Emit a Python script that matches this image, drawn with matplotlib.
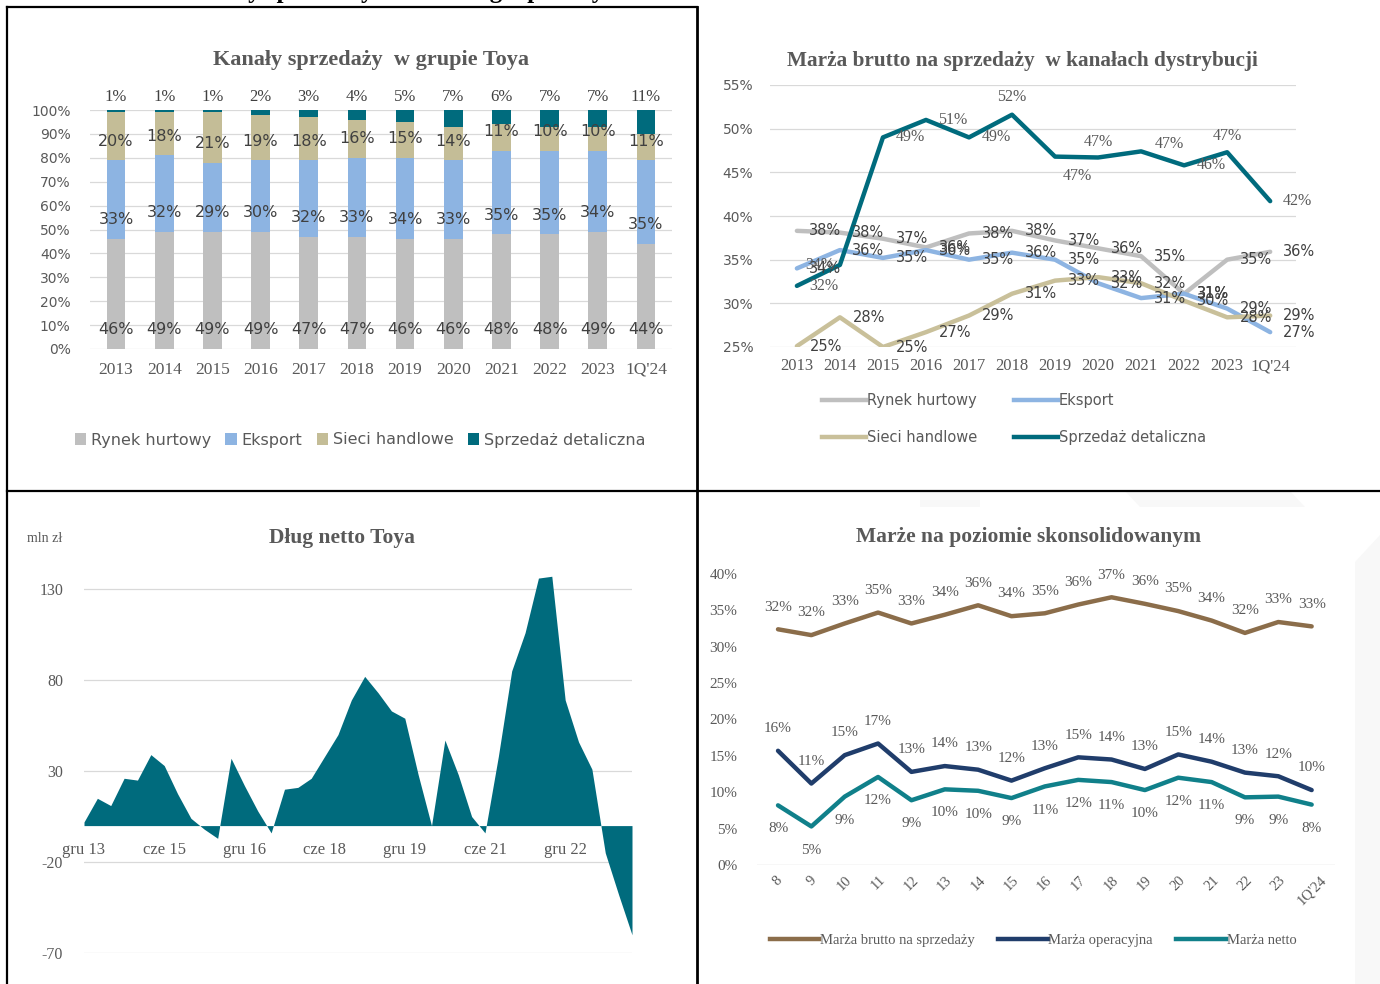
import matplotlib
matplotlib.use('Agg')
import matplotlib.pyplot as plt
import numpy as np
from matplotlib.lines import Line2D
from matplotlib.patches import Patch, Polygon

W, H = 1380, 984
SANS = ['DejaVu Sans']
SERIF = ['Liberation Serif', 'DejaVu Serif']
TXT = '#595959'
LBL = '#404040'
GRID = '#D9D9D9'

# ---------------- data: panel 1 (stacked bars) ----------------
years = ['2013', '2014', '2015', '2016', '2017', '2018', '2019', '2020', '2021', '2022', '2023', "1Q'24"]
share_hurt = [46, 49, 49, 49, 47, 47, 46, 46, 48, 48, 49, 44]
share_eksport = [33, 32, 29, 30, 32, 33, 34, 33, 35, 35, 34, 35]
share_sieci = [20, 18, 21, 19, 18, 16, 15, 14, 11, 10, 10, 11]
share_detal = [1, 1, 1, 2, 3, 4, 5, 7, 6, 7, 7, 11]

# ---------------- data: panel 2 (gross margin per channel) ----------------
mar_hurt = [38.3, 38.1, 37.4, 36.4, 38.0, 38.3, 37.2, 36.3, 35.4, 31.1, 35.0, 35.9]
mar_eksport = [34.0, 36.1, 35.2, 36.1, 35.0, 35.8, 35.0, 32.3, 30.6, 31.1, 29.4, 26.7]
mar_sieci = [25.1, 28.4, 25.0, 26.7, 28.6, 31.1, 32.6, 33.0, 32.3, 30.3, 28.4, 28.6]
mar_detal = [32.0, 34.4, 49.0, 51.0, 49.0, 51.6, 46.8, 46.7, 47.4, 45.8, 47.3, 41.7]

# ---------------- data: panel 3 (net debt, quarterly gru 13 .. 1Q'24) ----------------
debt = [2, 15, 11, 26, 25, 39, 33, 17.5, 4, -2, -7, 37, 22, 8, -4, 20, 21, 26, 38, 50,
        69, 82, 73, 63, 59, 28, 0, 47, 28, 5, -4, 38, 85, 106, 136, 137, 69, 46, 31, -15,
        -38, -60]
debt_tick_labels = ['gru 13', 'cze 15', 'gru 16', 'cze 18', 'gru 19', 'cze 21', 'gru 22']

# ---------------- data: panel 4 (consolidated margins) ----------------
periods = ['8', '9', '10', '11', '12', '13', '14', '15', '16', '17', '18', '19', '20', '21', '22', '23', "1Q'24"]
m_brutto = [32.4, 31.6, 33.2, 34.7, 33.2, 34.4, 35.7, 34.2, 34.6, 35.8, 36.8, 35.9, 34.9, 33.6, 31.9, 33.4, 32.8]
m_oper = [15.7, 11.2, 15.1, 16.7, 12.8, 13.6, 13.1, 11.6, 13.3, 14.8, 14.5, 13.2, 15.2, 14.2, 12.7, 12.2, 10.3]
m_netto = [8.2, 5.3, 9.4, 12.1, 8.9, 10.4, 10.2, 9.2, 10.8, 11.7, 11.4, 10.3, 12.0, 11.4, 9.3, 9.4, 8.3]


def rect(x0, y0, x1, y1):
    return [x0 / W, 1 - y1 / H, (x1 - x0) / W, (y1 - y0) / H]


def fx(x):
    return x / W


def fy(y):
    return 1 - y / H


fig = plt.figure(figsize=(W / 100, H / 100), dpi=100)
fig.patch.set_facecolor('white')

# faint watermark shapes
for poly in [[(920, 491), (980, 491), (980, 507), (920, 507)],
             [(1125, 491), (1290, 491), (1305, 507), (1140, 507)],
             [(1355, 562), (1380, 535), (1380, 984), (1355, 984)]]:
    fig.add_artist(Polygon([(fx(x), fy(y)) for x, y in poly], closed=True,
                           transform=fig.transFigure, facecolor='#F8F8F8', edgecolor='none', zorder=0))

# frame lines
def fline(x0, y0, x1, y1, lw=1.6):
    fig.add_artist(Line2D([fx(x0), fx(x1)], [fy(y0), fy(y1)], transform=fig.transFigure,
                          color='black', lw=lw, zorder=10))

fline(7, 7, 697, 7)
fline(7, 7, 7, 984)
fline(697, 7, 697, 984, lw=2)
fline(7, 491, 1380, 491)

# cut-off page heading (only its lowest strokes remain visible)
fig.text(fx(400), fy(-2), 'Kanały sprzedaży i marże w grupie Toya', family=SERIF, fontsize=18,
         fontweight='bold', ha='center', va='baseline', color='black')

# =============== Panel 1 ===============
ax1 = fig.add_axes(rect(90, 110, 672, 349))
x = np.arange(len(years))
wbar = 0.39
c_hurt, c_eks, c_sie, c_det = '#BFBFBF', '#8DB4E2', '#C4BD97', '#006B7D'
b0 = np.zeros(len(years))
series1 = [(share_hurt, c_hurt, 'Rynek hurtowy'), (share_eksport, c_eks, 'Eksport'),
           (share_sieci, c_sie, 'Sieci handlowe'), (share_detal, c_det, 'Sprzedaż detaliczna')]
for k, (vals, col, name) in enumerate(series1):
    vals = np.array(vals, dtype=float)
    ax1.bar(x, vals, wbar, bottom=b0, color=col, label=name, zorder=2)
    for i in range(len(x)):
        if k < 3:
            ax1.text(x[i], b0[i] + 8, f'{vals[i]:.0f}%', ha='center', va='center',
                     family=SANS, fontsize=11.5, color=LBL, zorder=3)
        else:
            ax1.text(x[i], 105.5, f'{vals[i]:.0f}%', ha='center', va='center',
                     family=SERIF, fontsize=12, color=LBL, zorder=3, clip_on=False)
    b0 = b0 + vals
ax1.set_xlim(-0.54, 11.54)
ax1.set_ylim(0, 100)
ax1.set_yticks(np.arange(0, 101, 10))
ax1.set_yticklabels([f'{v}%' for v in range(0, 101, 10)], family=SANS, fontsize=10, color=TXT)
ax1.set_xticks(x)
ax1.set_xticklabels(years, family=SERIF, fontsize=12.5, color=TXT)
ax1.tick_params(length=0, pad=9)
ax1.tick_params(axis='y', pad=14)
ax1.grid(axis='y', color=GRID, lw=0.9, zorder=0)
ax1.set_axisbelow(True)
for s in ax1.spines.values():
    s.set_visible(False)
fig.text(fx(371), fy(60), 'Kanały sprzedaży  w grupie Toya', family=SERIF, fontsize=16,
         fontweight='bold', ha='center', va='center', color=TXT)
handles1 = [Patch(facecolor=c, edgecolor='none') for c in (c_hurt, c_eks, c_sie, c_det)]
fig.legend(handles1, ['Rynek hurtowy', 'Eksport', 'Sieci handlowe', 'Sprzedaż detaliczna'],
           loc='center', bbox_to_anchor=(fx(360), fy(440)), ncol=4, frameon=False,
           prop={'family': SANS, 'size': 11.5}, labelcolor=TXT, handlelength=0.7, handleheight=0.7,
           handletextpad=0.3, columnspacing=0.9)

# =============== Panel 2 ===============
ax2 = fig.add_axes(rect(770, 85, 1296, 347))
series2 = [(mar_hurt, '#BFBFBF', 'Rynek hurtowy'), (mar_eksport, '#8DB4E2', 'Eksport'),
           (mar_sieci, '#C9C09A', 'Sieci handlowe'), (mar_detal, '#006B7D', 'Sprzedaż detaliczna')]
for vals, col, name in series2:
    ax2.plot(x, vals, color=col, lw=3.2, solid_joinstyle='round', solid_capstyle='round', zorder=3)
# labels: default to the right of the point
for vals in (mar_hurt, mar_eksport, mar_sieci):
    for i, v in enumerate(vals):
        ax2.annotate(f'{v:.0f}%', (i, v), xytext=(9, 0), textcoords='offset points',
                     ha='left', va='center', family=SANS, fontsize=10.5, color=LBL, zorder=4,
                     annotation_clip=False)
det_off = {1: (-4, 0, 'right'), 5: (0, 13, 'center'), 6: (16, -14, 'center'), 7: (0, 11, 'center'),
           8: (20, 5, 'center'), 10: (0, 12, 'center')}
for i, v in enumerate(mar_detal):
    dx, dy, ha = det_off.get(i, (9, 0, 'left'))
    ax2.annotate(f'{v:.0f}%', (i, v), xytext=(dx, dy), textcoords='offset points',
                 ha=ha, va='center', family=SERIF, fontsize=11.5, color=TXT, zorder=4,
                 annotation_clip=False)
ax2.set_xlim(-0.625, 11.6)
ax2.set_ylim(25, 55)
ax2.set_yticks(np.arange(25, 56, 5))
ax2.set_yticklabels([f'{v}%' for v in range(25, 56, 5)], family=SANS, fontsize=10, color=TXT)
ax2.set_xticks(x)
ax2.set_xticklabels(years, family=SERIF, fontsize=12, color=TXT)
ax2.tick_params(length=0, pad=8)
ax2.tick_params(axis='y', pad=12)
ax2.grid(axis='y', color=GRID, lw=0.9, zorder=0)
ax2.set_axisbelow(True)
for s in ax2.spines.values():
    s.set_visible(False)
fig.text(fx(1022), fy(61), 'Marża brutto na sprzedaży  w kanałach dystrybucji', family=SERIF,
         fontsize=15.3, fontweight='bold', ha='center', va='center', color=TXT)
h2 = [Line2D([], [], color=c, lw=3.2) for _, c, _ in series2]
names2 = [n for _, _, n in series2]
order2 = [0, 2, 1, 3]  # row-wise reading: hurtowy, eksport / sieci, detaliczna
fig.legend([h2[k] for k in order2], [names2[k] for k in order2], loc='center',
           bbox_to_anchor=(fx(1014), fy(419)), ncol=2, frameon=False,
           prop={'family': SANS, 'size': 10.5}, labelcolor=TXT,
           handlelength=3.0, handletextpad=0.1, columnspacing=2.5, labelspacing=1.5)

# =============== Panel 3 ===============
ax3 = fig.add_axes(rect(84, 498, 632, 953))
q = np.arange(len(debt))
ax3.fill_between(q, debt, 0, color='#006B7D', lw=0, zorder=2)
ax3.spines['bottom'].set_position(('data', 0))
for s in ax3.spines.values():
    s.set_visible(False)
ax3.set_xlim(0, len(debt) - 1)
ax3.set_ylim(-70, 180)
ax3.set_yticks([-70, -20, 30, 80, 130])
ax3.set_yticklabels(['-70', '-20', '30', '80', '130'], family=SERIF, fontsize=11.5, color=TXT)
ax3.set_xticks(q[::6])
ax3.set_xticklabels(debt_tick_labels, family=SERIF, fontsize=12, color=TXT)
ax3.tick_params(length=0)
ax3.tick_params(axis='x', pad=12)
ax3.tick_params(axis='y', pad=15)
ax3.grid(axis='y', color=GRID, lw=0.9, zorder=0)
ax3.set_axisbelow(True)
fig.text(fx(342), fy(538), 'Dług netto Toya', family=SERIF, fontsize=15.5, fontweight='bold',
         ha='center', va='center', color=TXT)
fig.text(fx(45), fy(538), 'mln zł', family=SERIF, fontsize=10, ha='center', va='center', color=TXT)

# =============== Panel 4 ===============
ax4 = fig.add_axes(rect(757, 574, 1335, 865))
p = np.arange(len(periods))
series4 = [(m_brutto, '#8B6D4A', 'Marża brutto na sprzedaży', 16),
           (m_oper, '#203D6B', 'Marża operacyjna', 16),
           (m_netto, '#10808A', 'Marża netto', -17)]
for vals, col, name, dy in series4:
    ax4.plot(p, vals, color=col, lw=3.2, solid_joinstyle='round', solid_capstyle='round', zorder=3)
    for i, v in enumerate(vals):
        ax4.annotate(f'{v:.0f}%', (i, v), xytext=(0, dy), textcoords='offset points',
                     ha='center', va='center', family=SERIF, fontsize=11, color=TXT,
                     annotation_clip=False)
ax4.set_xlim(-0.63, 16.7)
ax4.set_ylim(0, 40)
ax4.set_yticks(np.arange(0, 41, 5))
ax4.set_yticklabels([f'{v}%' for v in range(0, 41, 5)], family=SERIF, fontsize=11, color=TXT)
ax4.set_xticks(p)
ax4.set_xticklabels(periods, family=SERIF, fontsize=10.5, color=TXT, rotation=45,
                    ha='center', va='top')
for s in ax4.spines.values():
    s.set_visible(False)
ax4.axhline(0, color=GRID, lw=1.0, zorder=1)
ax4.tick_params(length=0, pad=6)
ax4.tick_params(axis='y', pad=14)
fig.text(fx(1029), fy(537), 'Marże na poziomie skonsolidowanym', family=SERIF, fontsize=15.5,
         fontweight='bold', ha='center', va='center', color=TXT)
h4 = [Line2D([], [], color=c, lw=3.2) for _, c, _, _ in series4]
fig.legend(h4, [n for _, _, n, _ in series4], loc='center', bbox_to_anchor=(fx(1033), fy(940)),
           ncol=3, frameon=False, prop={'family': SERIF, 'size': 10.5}, labelcolor=TXT,
           handlelength=3.4, handletextpad=0.05, columnspacing=1.6)

fig.savefig('out.png', dpi=100, facecolor='white')
